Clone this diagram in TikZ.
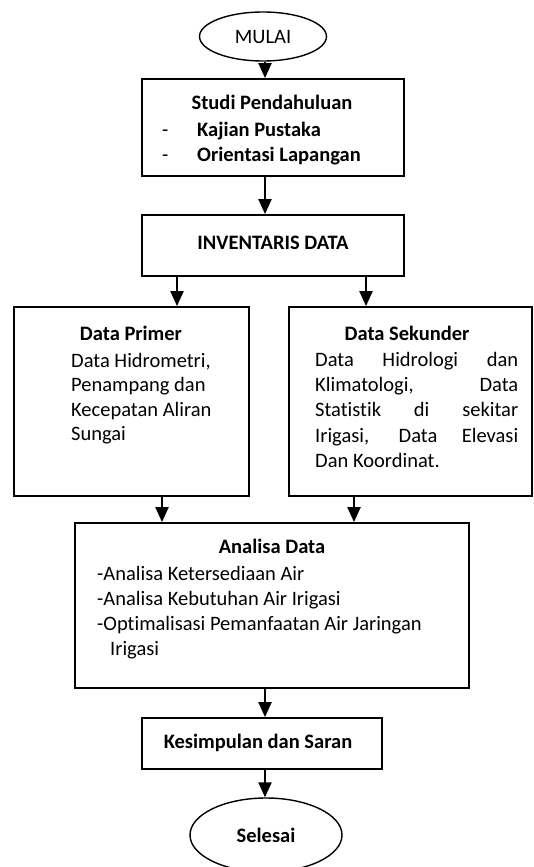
\documentclass[tikz,border=0pt]{standalone}
\usepackage{fontspec}
\setmainfont{Carlito}[Ligatures=NoCommon]
\usetikzlibrary{arrows.meta,shapes.geometric}
\begin{document}
\begin{tikzpicture}[x=1pt,y=-1pt,
  every node/.style={font=\fontsize{20.5}{24.3}\selectfont},
  boxx/.style={draw,line width=1.8pt,rectangle,inner sep=0pt},
  ell/.style={draw,line width=1.4pt,ellipse,inner sep=0pt},
  txt/.style={anchor=base,inner sep=0pt},
  txtl/.style={anchor=base west,inner sep=0pt},
  bf/.style={font=\fontsize{20.5}{24.3}\selectfont\bfseries},
  arr/.style={line width=2.2pt,-{Triangle[width=13pt,length=15pt]}}]
\fill[white] (0,0) rectangle (533,867);
\clip (0,0) rectangle (533,867);
% nodes
\node[ell,minimum width=127pt,minimum height=49pt] (mulai) at (263,36.5) {MULAI};
\node[boxx,minimum width=262pt,minimum height=97pt] (studi) at (273,127.5) {};
\node[boxx,minimum width=262pt,minimum height=61pt] (inv) at (273,245.5) {};
\node[boxx,minimum width=235pt,minimum height=189pt] (prim) at (131.5,401.5) {};
\node[boxx,minimum width=243pt,minimum height=189pt] (sek) at (410.5,401.5) {};
\node[boxx,minimum width=394pt,minimum height=165pt] (ana) at (272,605.5) {};
\node[boxx,minimum width=240pt,minimum height=51pt] (kes) at (262,743.5) {};
\node[ell,bf,minimum width=152pt,minimum height=74pt] (sel) at (266,835) {Selesai};
% texts
\node[txt,bf] (t1) at (272,109) {Studi Pendahuluan};
\node[txtl] (t2a) at (162,136) {-};
\node[txtl,bf] (t2) at (197,136) {Kajian Pustaka};
\node[txtl] (t3a) at (162,161) {-};
\node[txtl,bf] (t3) at (197,161) {Orientasi Lapangan};
\node[txt,bf] (t4) at (273,249) {INVENTARIS DATA};
\node[txt,bf] (t5) at (131,340) {Data Primer};
\node[txtl] (t6) at (71,367.5) {Data Hidrometri,};
\node[txtl] (t7) at (71,391.5) {Penampang dan};
\node[txtl] (t8) at (71,416) {Kecepatan Aliran};
\node[txtl] (t9) at (71,440) {Sungai};
\node[txt,bf] (t10) at (407,340) {Data Sekunder};
\node[txtl] (t11) at (315,366) {\makebox[203pt][s]{Data Hidrologi dan}};
\node[txtl] (t12) at (315,391) {\makebox[203pt][s]{Klimatologi, Data}};
\node[txtl] (t13) at (315,416.5) {\makebox[203pt][s]{Statistik di sekitar}};
\node[txtl] (t14) at (315,442) {\makebox[203pt][s]{Irigasi, Data Elevasi}};
\node[txtl] (t15) at (315,467) {Dan Koordinat.};
\node[txt,bf] (t16) at (272,553) {Analisa Data};
\node[txtl] (t17) at (97,580) {-Analisa Ketersediaan Air};
\node[txtl] (t18) at (97,605) {-Analisa Kebutuhan Air Irigasi};
\node[txtl] (t19) at (97,630) {-Optimalisasi Pemanfaatan Air Jaringan};
\node[txtl] (t20) at (110,655) {Irigasi};
\node[txt,bf] (t21) at (258,748) {Kesimpulan dan Saran};
% arrow columns
\coordinate (c1) at (265,0);
\coordinate (cl) at (177,0);
\coordinate (cr) at (366,0);
\coordinate (cl2) at (162,0);
\coordinate (cr2) at (354,0);
% connectors
\draw[arr] (mulai.south -| c1) -- (studi.north -| c1);
\draw[arr] (studi.south -| c1) -- (inv.north -| c1);
\draw[arr] (inv.south -| cl) -- (prim.north -| cl);
\draw[arr] (inv.south -| cr) -- (sek.north -| cr);
\draw[arr] (prim.south -| cl2) -- (ana.north -| cl2);
\draw[arr] (sek.south -| cr2) -- (ana.north -| cr2);
\draw[arr] (ana.south -| c1) -- (kes.north -| c1);
\draw[arr] (kes.south -| c1) -- (sel.north -| c1);
\end{tikzpicture}
\end{document}
